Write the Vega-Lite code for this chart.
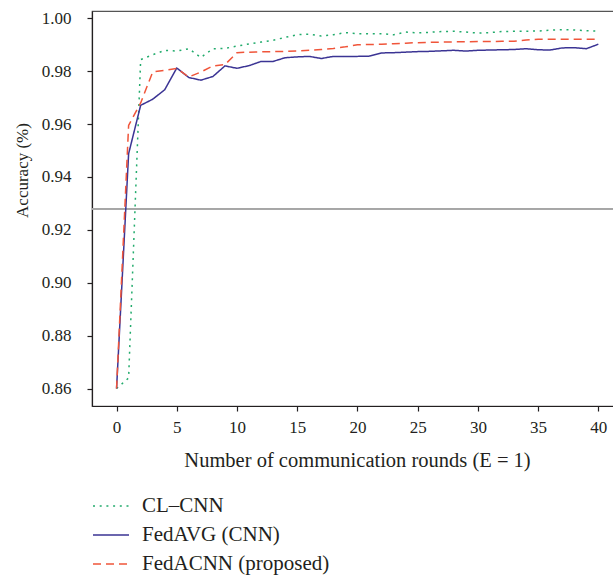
{
  "$schema": "https://vega.github.io/schema/vega-lite/v6.json",
  "autosize": {"type": "none"},
  "padding": {"left": 92, "top": 11, "right": 0, "bottom": 172},
  "width": 522,
  "height": 395,
  "background": "white",
  "config": {
    "view": {"stroke": "#555555", "strokeWidth": 1.2},
    "font": "Liberation Serif",
    "axis": {"grid": false, "labelFont": "Liberation Serif", "titleFont": "Liberation Serif", "labelFontSize": 17, "titleFontSize": 17, "titleFontWeight": "normal", "labelColor": "#231f20", "titleColor": "#231f20", "domainColor": "#231f20", "tickColor": "#231f20", "tickSize": 5, "domainWidth": 1.2, "tickWidth": 1.2},
    "legend": {"labelFont": "Liberation Serif", "labelFontSize": 21, "labelColor": "#231f20", "labelLimit": 0}
  },
  "data": {
    "values": [
      {"round": 0, "series": "CL–CNN", "acc": 0.860},
      {"round": 1, "series": "CL–CNN", "acc": 0.864},
      {"round": 2, "series": "CL–CNN", "acc": 0.9844},
      {"round": 3, "series": "CL–CNN", "acc": 0.9862},
      {"round": 4, "series": "CL–CNN", "acc": 0.9879},
      {"round": 5, "series": "CL–CNN", "acc": 0.9876},
      {"round": 6, "series": "CL–CNN", "acc": 0.9885},
      {"round": 7, "series": "CL–CNN", "acc": 0.9852},
      {"round": 8, "series": "CL–CNN", "acc": 0.9885},
      {"round": 9, "series": "CL–CNN", "acc": 0.9886},
      {"round": 10, "series": "CL–CNN", "acc": 0.9895},
      {"round": 11, "series": "CL–CNN", "acc": 0.9903},
      {"round": 12, "series": "CL–CNN", "acc": 0.9910},
      {"round": 13, "series": "CL–CNN", "acc": 0.9917},
      {"round": 14, "series": "CL–CNN", "acc": 0.9928},
      {"round": 15, "series": "CL–CNN", "acc": 0.9938},
      {"round": 16, "series": "CL–CNN", "acc": 0.9940},
      {"round": 17, "series": "CL–CNN", "acc": 0.9933},
      {"round": 18, "series": "CL–CNN", "acc": 0.9938},
      {"round": 19, "series": "CL–CNN", "acc": 0.9946},
      {"round": 20, "series": "CL–CNN", "acc": 0.9942},
      {"round": 21, "series": "CL–CNN", "acc": 0.9942},
      {"round": 22, "series": "CL–CNN", "acc": 0.9942},
      {"round": 23, "series": "CL–CNN", "acc": 0.9938},
      {"round": 24, "series": "CL–CNN", "acc": 0.9948},
      {"round": 25, "series": "CL–CNN", "acc": 0.9945},
      {"round": 26, "series": "CL–CNN", "acc": 0.9947},
      {"round": 27, "series": "CL–CNN", "acc": 0.9950},
      {"round": 28, "series": "CL–CNN", "acc": 0.9951},
      {"round": 29, "series": "CL–CNN", "acc": 0.9948},
      {"round": 30, "series": "CL–CNN", "acc": 0.9944},
      {"round": 31, "series": "CL–CNN", "acc": 0.9946},
      {"round": 32, "series": "CL–CNN", "acc": 0.9950},
      {"round": 33, "series": "CL–CNN", "acc": 0.9951},
      {"round": 34, "series": "CL–CNN", "acc": 0.9951},
      {"round": 35, "series": "CL–CNN", "acc": 0.9952},
      {"round": 36, "series": "CL–CNN", "acc": 0.9955},
      {"round": 37, "series": "CL–CNN", "acc": 0.9957},
      {"round": 38, "series": "CL–CNN", "acc": 0.9956},
      {"round": 39, "series": "CL–CNN", "acc": 0.9953},
      {"round": 40, "series": "CL–CNN", "acc": 0.9952},
      {"round": 0, "series": "FedAVG (CNN)", "acc": 0.860},
      {"round": 1, "series": "FedAVG (CNN)", "acc": 0.9488},
      {"round": 2, "series": "FedAVG (CNN)", "acc": 0.9671},
      {"round": 3, "series": "FedAVG (CNN)", "acc": 0.9694},
      {"round": 4, "series": "FedAVG (CNN)", "acc": 0.9730},
      {"round": 5, "series": "FedAVG (CNN)", "acc": 0.9812},
      {"round": 6, "series": "FedAVG (CNN)", "acc": 0.9776},
      {"round": 7, "series": "FedAVG (CNN)", "acc": 0.9766},
      {"round": 8, "series": "FedAVG (CNN)", "acc": 0.9780},
      {"round": 9, "series": "FedAVG (CNN)", "acc": 0.9820},
      {"round": 10, "series": "FedAVG (CNN)", "acc": 0.9811},
      {"round": 11, "series": "FedAVG (CNN)", "acc": 0.9821},
      {"round": 12, "series": "FedAVG (CNN)", "acc": 0.9837},
      {"round": 13, "series": "FedAVG (CNN)", "acc": 0.9837},
      {"round": 14, "series": "FedAVG (CNN)", "acc": 0.9851},
      {"round": 15, "series": "FedAVG (CNN)", "acc": 0.9854},
      {"round": 16, "series": "FedAVG (CNN)", "acc": 0.9856},
      {"round": 17, "series": "FedAVG (CNN)", "acc": 0.9848},
      {"round": 18, "series": "FedAVG (CNN)", "acc": 0.9856},
      {"round": 19, "series": "FedAVG (CNN)", "acc": 0.9856},
      {"round": 20, "series": "FedAVG (CNN)", "acc": 0.9856},
      {"round": 21, "series": "FedAVG (CNN)", "acc": 0.9857},
      {"round": 22, "series": "FedAVG (CNN)", "acc": 0.9869},
      {"round": 23, "series": "FedAVG (CNN)", "acc": 0.9870},
      {"round": 24, "series": "FedAVG (CNN)", "acc": 0.9872},
      {"round": 25, "series": "FedAVG (CNN)", "acc": 0.9874},
      {"round": 26, "series": "FedAVG (CNN)", "acc": 0.9875},
      {"round": 27, "series": "FedAVG (CNN)", "acc": 0.9877},
      {"round": 28, "series": "FedAVG (CNN)", "acc": 0.9879},
      {"round": 29, "series": "FedAVG (CNN)", "acc": 0.9876},
      {"round": 30, "series": "FedAVG (CNN)", "acc": 0.9879},
      {"round": 31, "series": "FedAVG (CNN)", "acc": 0.9880},
      {"round": 32, "series": "FedAVG (CNN)", "acc": 0.9881},
      {"round": 33, "series": "FedAVG (CNN)", "acc": 0.9882},
      {"round": 34, "series": "FedAVG (CNN)", "acc": 0.9885},
      {"round": 35, "series": "FedAVG (CNN)", "acc": 0.9881},
      {"round": 36, "series": "FedAVG (CNN)", "acc": 0.9880},
      {"round": 37, "series": "FedAVG (CNN)", "acc": 0.9888},
      {"round": 38, "series": "FedAVG (CNN)", "acc": 0.9889},
      {"round": 39, "series": "FedAVG (CNN)", "acc": 0.9885},
      {"round": 40, "series": "FedAVG (CNN)", "acc": 0.9902},
      {"round": 0, "series": "FedACNN (proposed)", "acc": 0.860},
      {"round": 1, "series": "FedACNN (proposed)", "acc": 0.9595},
      {"round": 2, "series": "FedACNN (proposed)", "acc": 0.9680},
      {"round": 3, "series": "FedACNN (proposed)", "acc": 0.9797},
      {"round": 4, "series": "FedACNN (proposed)", "acc": 0.9803},
      {"round": 5, "series": "FedACNN (proposed)", "acc": 0.9810},
      {"round": 6, "series": "FedACNN (proposed)", "acc": 0.9778},
      {"round": 7, "series": "FedACNN (proposed)", "acc": 0.9797},
      {"round": 8, "series": "FedACNN (proposed)", "acc": 0.9820},
      {"round": 9, "series": "FedACNN (proposed)", "acc": 0.9825},
      {"round": 10, "series": "FedACNN (proposed)", "acc": 0.9870},
      {"round": 11, "series": "FedACNN (proposed)", "acc": 0.9872},
      {"round": 12, "series": "FedACNN (proposed)", "acc": 0.9873},
      {"round": 13, "series": "FedACNN (proposed)", "acc": 0.9874},
      {"round": 14, "series": "FedACNN (proposed)", "acc": 0.9875},
      {"round": 15, "series": "FedACNN (proposed)", "acc": 0.9876},
      {"round": 16, "series": "FedACNN (proposed)", "acc": 0.9879},
      {"round": 17, "series": "FedACNN (proposed)", "acc": 0.9882},
      {"round": 18, "series": "FedACNN (proposed)", "acc": 0.9886},
      {"round": 19, "series": "FedACNN (proposed)", "acc": 0.9892},
      {"round": 20, "series": "FedACNN (proposed)", "acc": 0.9900},
      {"round": 21, "series": "FedACNN (proposed)", "acc": 0.9901},
      {"round": 22, "series": "FedACNN (proposed)", "acc": 0.9902},
      {"round": 23, "series": "FedACNN (proposed)", "acc": 0.9904},
      {"round": 24, "series": "FedACNN (proposed)", "acc": 0.9906},
      {"round": 25, "series": "FedACNN (proposed)", "acc": 0.9908},
      {"round": 26, "series": "FedACNN (proposed)", "acc": 0.9909},
      {"round": 27, "series": "FedACNN (proposed)", "acc": 0.9910},
      {"round": 28, "series": "FedACNN (proposed)", "acc": 0.9911},
      {"round": 29, "series": "FedACNN (proposed)", "acc": 0.9911},
      {"round": 30, "series": "FedACNN (proposed)", "acc": 0.9912},
      {"round": 31, "series": "FedACNN (proposed)", "acc": 0.9912},
      {"round": 32, "series": "FedACNN (proposed)", "acc": 0.9913},
      {"round": 33, "series": "FedACNN (proposed)", "acc": 0.9913},
      {"round": 34, "series": "FedACNN (proposed)", "acc": 0.9918},
      {"round": 35, "series": "FedACNN (proposed)", "acc": 0.9921},
      {"round": 36, "series": "FedACNN (proposed)", "acc": 0.9921},
      {"round": 37, "series": "FedACNN (proposed)", "acc": 0.9921},
      {"round": 38, "series": "FedACNN (proposed)", "acc": 0.9921},
      {"round": 39, "series": "FedACNN (proposed)", "acc": 0.9921},
      {"round": 40, "series": "FedACNN (proposed)", "acc": 0.9921}
    ]
  },
  "layer": [
    {
      "mark": {"type": "rule", "color": "#a6a6a6", "strokeWidth": 1.2},
      "encoding": {"y": {"datum": 0.928}}
    },
    {
      "mark": {"type": "line", "strokeWidth": 1.5, "clip": true},
      "encoding": {
        "x": {
          "field": "round", "type": "quantitative",
          "scale": {"domain": [-2.04, 41.3], "nice": false, "zero": false},
          "axis": {"values": [0, 5, 10, 15, 20, 25, 30, 35, 40], "title": "Number of communication rounds (E = 1)", "titleFontSize": 20.5, "labelPadding": 8, "titleX": 265, "titleY": 54, "titleBaseline": "middle", "titleAlign": "center"}
        },
        "y": {
          "field": "acc", "type": "quantitative",
          "scale": {"domain": [0.8534, 1.00276], "nice": false, "zero": false},
          "axis": {"values": [0.86, 0.88, 0.90, 0.92, 0.94, 0.96, 0.98, 1.00], "format": ".2f", "title": "Accuracy (%)", "labelPadding": 16, "titleX": -70, "titleY": 159, "titleBaseline": "middle", "titleAlign": "center", "titleAngle": -90}
        },
        "color": {
          "field": "series", "type": "nominal",
          "scale": {"domain": ["CL–CNN", "FedAVG (CNN)", "FedACNN (proposed)"], "range": ["#22ab6c", "#3b3494", "#f0553a"]},
          "legend": {"title": null, "orient": "none", "legendX": 0, "legendY": 476, "symbolType": "stroke", "symbolSize": 1296, "symbolStrokeWidth": 1.5, "labelOffset": 12, "rowPadding": -7, "labelLimit": 0}
        },
        "strokeDash": {
          "field": "series", "type": "nominal",
          "scale": {"domain": ["CL–CNN", "FedAVG (CNN)", "FedACNN (proposed)"], "range": [[2, 4.7], [1, 0], [8, 5]]},
          "legend": null
        }
      }
    }
  ]
}
